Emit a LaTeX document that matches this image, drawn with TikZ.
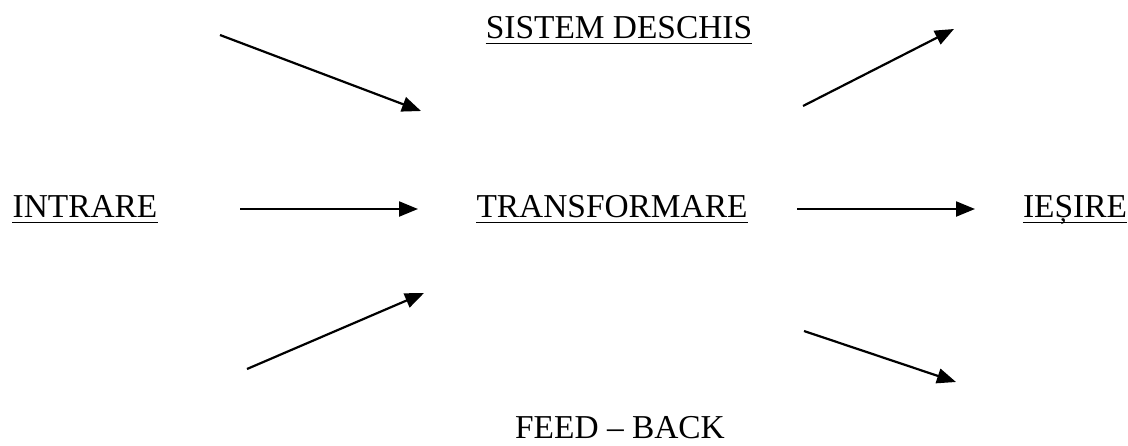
\documentclass[tikz,border=0pt]{standalone}
\usepackage{fontspec}
\setmainfont{Liberation Serif}
\usetikzlibrary{arrows.meta}
\begin{document}
\begin{tikzpicture}[x=1pt,y=-1pt,
  lbl/.style={anchor=base,inner sep=0pt,font=\fontsize{33.4}{40}\selectfont},
  flow/.style={line width=2.2pt,-{Triangle[length=19pt,width=15pt]}},
  uline/.style={line width=1.6pt}]
\useasboundingbox (0,0) rectangle (1128,445);

% labels
\node[lbl] (top)   at (619,38)  {SISTEM DESCHIS};
\node[lbl] (in)    at (85,217)  {INTRARE};
\node[lbl] (mid)   at (612,217) {TRANSFORMARE};
\node[lbl] (out)   at (1075,217){IEȘIRE};
\node[lbl] (bot)   at (620,438) {FEED – BACK};

% underlines
\foreach \n in {top,in,mid,out}
  \draw[uline] ([yshift=-5.5pt]\n.base west) -- ([yshift=-5.5pt]\n.base east);

% arrow end points
\coordinate (a1) at (220,35);  \coordinate (b1) at (421,111);
\coordinate (a2) at (240,209); \coordinate (b2) at (418,209);
\coordinate (a3) at (247,369); \coordinate (b3) at (424,293);
\coordinate (a4) at (803,106); \coordinate (b4) at (954,29);
\coordinate (a5) at (797,209); \coordinate (b5) at (975,209);
\coordinate (a6) at (804,331); \coordinate (b6) at (956,382);

\draw[flow] (a1) -- (b1);
\draw[flow] (a2) -- (b2);
\draw[flow] (a3) -- (b3);
\draw[flow] (a4) -- (b4);
\draw[flow] (a5) -- (b5);
\draw[flow] (a6) -- (b6);
\end{tikzpicture}
\end{document}
